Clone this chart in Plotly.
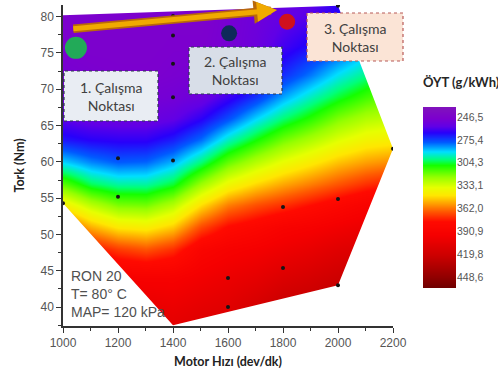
import plotly.graph_objects as go

# ---------------- data ----------------
speed_grid = [1000, 1100, 1200, 1300, 1400, 1500, 1600, 1700, 1800, 1900, 2000, 2100, 2200]
torque_grid = [36, 40, 44, 48, 51, 54, 57, 60, 63, 66, 69, 72, 76, 80, 84]

bsfc_y36 = [418, 415, 412, 410, 408, 412, 415, 422, 430, 435, 440, 445, 450]
bsfc_y40 = [410, 407, 405, 403, 401, 405, 408, 415, 423, 426, 432, 435, 438]
bsfc_y44 = [400, 397, 394, 393, 393, 397, 401, 405, 411, 415, 420, 423, 426]
bsfc_y48 = [390, 378, 370, 366, 372, 387, 392, 395, 399, 403, 408, 411, 414]
bsfc_y51 = [368, 353, 344, 342, 349, 368, 379, 384, 390, 393, 397, 401, 405]
bsfc_y54 = [342, 328, 319, 318, 327, 346, 360, 367, 372, 378, 384, 390, 394]
bsfc_y57 = [315, 302, 297, 297, 304, 323, 338, 347, 354, 360, 366, 372, 376]
bsfc_y60 = [289, 282, 278, 279, 286, 300, 316, 327, 336, 343, 350, 355, 358]
bsfc_y63 = [269, 266, 265, 265, 270, 280, 295, 307, 318, 326, 334, 340, 342]
bsfc_y66 = [258, 255, 254, 254, 257, 265, 276, 289, 300, 309, 319, 326, 329]
bsfc_y69 = [253, 251, 250, 250, 251, 254, 263, 273, 285, 295, 304, 312, 318]
bsfc_y72 = [250, 249, 248, 248, 249, 250, 253, 261, 272, 281, 291, 299, 306]
bsfc_y76 = [248, 247, 247, 247, 248, 248, 250, 254, 262, 268, 275, 284, 292]
bsfc_y80 = [247, 247, 247, 247, 247, 247, 250, 253, 257, 260, 268, 272, 278]
bsfc_y84 = [247, 247, 247, 247, 247, 247, 249, 251, 254, 256, 262, 265, 270]

bsfc_rows = [bsfc_y36, bsfc_y40, bsfc_y44, bsfc_y48, bsfc_y51, bsfc_y54, bsfc_y57,
             bsfc_y60, bsfc_y63, bsfc_y66, bsfc_y69, bsfc_y72, bsfc_y76, bsfc_y80, bsfc_y84]

# envelope of the measured operating points
hull_speed = [1000, 1400, 2000, 2200, 2000, 1000]
hull_torque = [54.3, 37.5, 43.0, 61.8, 81.5, 80.2]

# measured points
meas_speed = [1400, 1400, 1400, 1400, 1200, 1400, 1200, 1000, 1600, 1600, 1800, 2000, 1800, 2000, 2200, 2000]
meas_torque = [80.1, 77.4, 73.5, 68.9, 60.5, 60.2, 55.2, 54.3, 44.0, 40.0, 53.8, 54.9, 45.4, 43.0, 61.8, 81.5]

# working points
wp_speed = [1047, 1604, 1815]
wp_torque = [75.7, 77.7, 79.3]
wp_colors = ["rgb(34,170,88)", "rgb(14,42,90)", "rgb(208,16,30)"]
wp_sizes = [22, 16, 16]

# arrow between working points
arrow_speed = [1032, 1778]
arrow_torque = [78.3, 80.9]

cbar_vals = [246.5, 275.4, 304.3, 333.1, 362.0, 390.9, 419.8, 448.6]
cbar_text = ["246,5", "275,4", "304,3", "333,1", "362,0", "390,9", "419,8", "448,6"]
z_min, z_max = 234.0, 462.0

x_range = [1000, 2200]
y_range = [37.4, 81.6]

# ---------------- layout geometry (pixels) ----------------
W, H = 498, 382
ML, MT, MB = 63, 5, 56
PW = W - ML           # plotting width (right margin 0)
PH = H - MT - MB


def fx(px):
    return (px - ML) / PW


def fy(py):
    return (H - MB - py) / PH


# ---------------- colour scale ----------------
stops = [
    (234, "rgb(128,18,188)"), (248, "rgb(124,0,206)"), (258, "rgb(96,0,230)"),
    (266, "rgb(40,0,250)"), (278, "rgb(0,90,255)"), (290, "rgb(0,222,255)"),
    (300, "rgb(0,255,120)"), (307, "rgb(20,255,0)"), (322, "rgb(150,255,0)"),
    (335, "rgb(230,255,0)"), (345, "rgb(255,230,0)"), (355, "rgb(255,160,0)"),
    (365, "rgb(255,90,0)"), (378, "rgb(255,10,0)"), (395, "rgb(245,0,0)"),
    (420, "rgb(205,0,0)"), (448, "rgb(145,0,0)"), (462, "rgb(110,0,0)"),
]
colorscale = [[(v - z_min) / (z_max - z_min), c] for v, c in stops]

fig = go.Figure()

fig.add_trace(go.Heatmap(
    x=speed_grid, y=torque_grid, z=bsfc_rows,
    zmin=z_min, zmax=z_max, colorscale=colorscale, zsmooth="best",
    showscale=False, hoverinfo="skip",
))

# white mask outside of the measured envelope
mask_x = [x_range[0]] + hull_speed + [x_range[0], x_range[1], x_range[1], x_range[0]]
mask_y = [y_range[0]] + hull_torque + [y_range[1], y_range[1], y_range[0], y_range[0]]
fig.add_trace(go.Scatter(
    x=mask_x, y=mask_y, mode="lines", fill="toself",
    fillcolor="white", line=dict(width=0, color="white"), hoverinfo="skip",
))

fig.add_trace(go.Scatter(
    x=meas_speed, y=meas_torque, mode="markers",
    marker=dict(size=4, color="#151515", opacity=1), hoverinfo="skip",
))

fig.add_trace(go.Scatter(
    x=wp_speed, y=wp_torque, mode="markers",
    marker=dict(size=wp_sizes, color=wp_colors, opacity=1, line=dict(width=0)), hoverinfo="skip",
))

# colour legend drawn as its own small heatmap (low values at top)
fig.add_trace(go.Heatmap(
    x=[0, 1], y=[z_min, z_max], z=[[z_min, z_min], [z_max, z_max]],
    zmin=z_min, zmax=z_max, colorscale=colorscale, zsmooth="best",
    showscale=False, hoverinfo="skip", xaxis="x2", yaxis="y2",
))

annotations = []
# arrow: outline then fill
for w, col, hs in [(8.5, "rgb(185,105,10)", 0.55), (5, "rgb(240,170,0)", 0.8)]:
    annotations.append(dict(
        x=arrow_speed[1], y=arrow_torque[1], ax=arrow_speed[0], ay=arrow_torque[0],
        xref="x", yref="y", axref="x", ayref="y", text="", showarrow=True,
        arrowhead=2, arrowsize=hs, arrowwidth=w, arrowcolor=col, standoff=0, startstandoff=0,
    ))

box_font = dict(family="Lato, Open Sans", size=14, color="#404040")
boxes = [
    ("1. Çalışma<br>Noktası", 64, 158, 71, 121, "rgb(233,237,243)", "#2c3a4c"),
    ("2. Çalışma<br>Noktası", 189, 282, 47, 94, "rgb(216,222,232)", "#2c3a52"),
    ("3. Çalışma<br>Noktası", 307, 403, 13, 61, "rgb(251,228,214)", "#b85a58"),
]
shapes = []
for text, x0, x1, y0, y1, bg, bc in boxes:
    shapes.append(dict(type="rect", xref="paper", yref="paper",
                       x0=fx(x0), x1=fx(x1), y0=fy(y1), y1=fy(y0),
                       fillcolor=bg, line=dict(color=bc, width=1.2, dash="dot"), layer="above"))
    annotations.append(dict(text=text, x=fx((x0 + x1) / 2), y=fy((y0 + y1) / 2),
                            xref="paper", yref="paper",
                            showarrow=False, font=box_font, align="center",
                            xanchor="center", yanchor="middle"))

annotations.append(dict(
    text="RON 20<br>T= 80° C<br>MAP= 120 kPa", x=fx(69), y=fy(294), xref="paper", yref="paper",
    showarrow=False, align="left", xanchor="left", yanchor="middle",
    font=dict(family="Liberation Sans, Arial", size=14, color="#505050"),
))

annotations.append(dict(
    text="<b>ÖYT (g/kWh)</b>", x=fx(421), y=fy(82), xref="paper", yref="paper",
    showarrow=False, xanchor="left", yanchor="middle",
    font=dict(family="Lato, Open Sans", size=13, color="#262626"),
))

tick_font = dict(family="Liberation Sans, Arial", size=12, color="#555555")
title_font = dict(family="Lato, Open Sans", size=12.5, color="#222222")

fig.update_layout(
    width=W, height=H,
    margin=dict(l=ML, r=0, t=MT, b=MB, autoexpand=False),
    paper_bgcolor="white", plot_bgcolor="white",
    showlegend=False,
    shapes=shapes, annotations=annotations,
    xaxis=dict(
        domain=[0, fx(393)], automargin=False,
        range=x_range, tickmode="linear", tick0=1000, dtick=200,
        ticks="outside", ticklen=5, tickwidth=1.2, tickcolor="#333333",
        showline=True, linecolor="#333333", linewidth=1.5,
        showgrid=False, zeroline=False, tickfont=tick_font,
        minor=dict(dtick=100, ticks="outside", ticklen=3, tickwidth=1, tickcolor="#333333", showgrid=False),
        title=dict(text="<b>Motor Hızı (dev/dk)</b>", font=title_font, standoff=8),
    ),
    yaxis=dict(
        automargin=False,
        range=y_range, tickmode="linear", tick0=40, dtick=5,
        ticks="outside", ticklen=5, tickwidth=1.2, tickcolor="#333333",
        showline=True, linecolor="#333333", linewidth=1.5,
        showgrid=False, zeroline=False, tickfont=tick_font,
        minor=dict(dtick=2.5, ticks="outside", ticklen=3, tickwidth=1, tickcolor="#333333", showgrid=False),
        title=dict(text="<b>Tork (Nm)</b>", font=title_font, standoff=13),
    ),
    xaxis2=dict(
        domain=[fx(423), fx(456)], anchor="y2", range=[0, 1], automargin=False,
        showticklabels=False, ticks="", showgrid=False, zeroline=False, showline=False,
    ),
    yaxis2=dict(
        domain=[fy(288), fy(107)], anchor="x2", side="right", automargin=False,
        range=[z_max, z_min], tickmode="array", tickvals=cbar_vals, ticktext=cbar_text,
        ticks="", showgrid=False, zeroline=False, showline=False,
        tickfont=dict(family="Liberation Sans, Arial", size=10.5, color="#555555"),
    ),
)

fig.write_html("out.html")
